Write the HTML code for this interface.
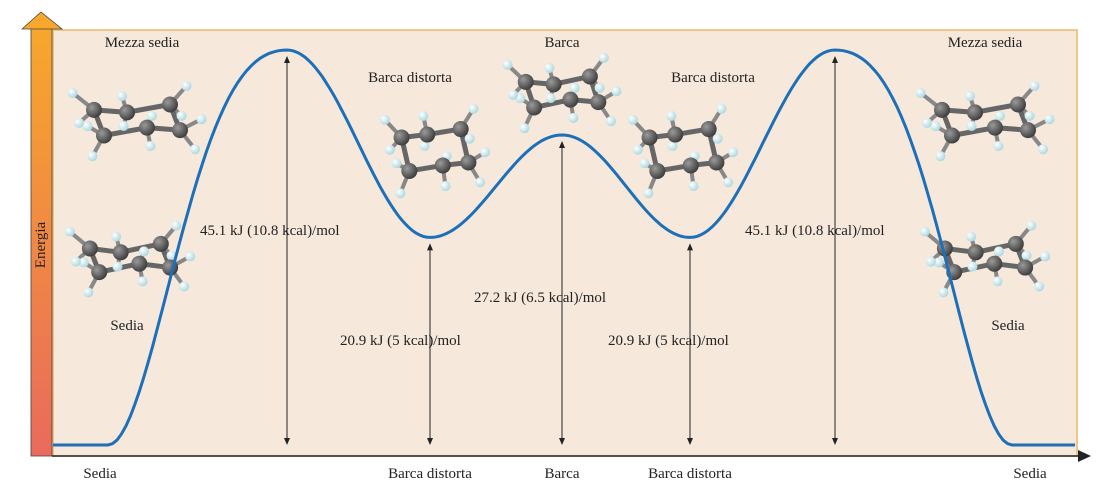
<!DOCTYPE html>
<html><head><meta charset="utf-8"><style>
body{margin:0;background:#fff;}
svg{display:block;font-family:"Liberation Serif",serif;}
</style></head><body>
<svg id="c" width="1117" height="494" viewBox="0 0 1117 494">
<defs>
<linearGradient id="eg" x1="0" y1="0" x2="0" y2="1"><stop offset="0" stop-color="#f7a72c"/><stop offset="1" stop-color="#e96a5c"/></linearGradient>
<radialGradient id="cg" cx="0.35" cy="0.35" r="0.7"><stop offset="0" stop-color="#9a9a9a"/><stop offset="1" stop-color="#3a3a3a"/></radialGradient>
<radialGradient id="hg" cx="0.35" cy="0.35" r="0.7"><stop offset="0" stop-color="#ffffff"/><stop offset="1" stop-color="#a9d6de"/></radialGradient>
</defs>
<rect x="53" y="30" width="1024" height="426" fill="#f6e9dc" stroke="#e8b86a" stroke-width="1.5"/>
<g>
<rect x="31" y="28" width="21" height="428" fill="url(#eg)" stroke="#444" stroke-width="0.8"/>
<polygon points="22,29 41,12 62,29" fill="#f7a72c" stroke="#444" stroke-width="0.8"/>
<text transform="translate(45,245) rotate(-90)" text-anchor="middle" font-size="15" fill="#222">Energia</text>
</g>
<g>
<line x1="52" y1="456" x2="1080" y2="456" stroke="#222" stroke-width="1.5"/>
<polygon points="1078,450 1091,456 1078,462" fill="#222"/>
</g>
<g id="mol"></g>
<g id="arrows"></g>
<path id="curve" fill="none" stroke="#1d6fb8" stroke-width="3"/>
<g id="labels"></g>
</svg>
<script>
const stateX = [108, 287, 430, 562, 690, 835, 1012];
const stateE = [0, 45.1, 23.7, 35.4, 23.7, 45.1, 0];
const arrowLabels = ["45.1 kJ (10.8 kcal)/mol","20.9 kJ (5 kcal)/mol","27.2 kJ (6.5 kcal)/mol","20.9 kJ (5 kcal)/mol","45.1 kJ (10.8 kcal)/mol"];
const xCategories = ["Sedia","Barca distorta","Barca","Barca distorta","Sedia"];
const NS="http://www.w3.org/2000/svg";
const y0=445, kpx=(445-50)/45.1;
function yS(e){return y0-e*kpx;}
function mk(t,a,p){const e=document.createElementNS(NS,t);for(const k in a)e.setAttribute(k,a[k]);(p||document.getElementById('c')).appendChild(e);return e;}
let d="M53,"+yS(0)+" L"+stateX[0]+","+yS(stateE[0]);
const last=stateX.length-2;
for(let i=0;i<stateX.length-1;i++){
  for(let s=1;s<=40;s++){const t=s/40;let g=t;
    if(i===0) g=t+0.45*t*(1-t);
    else if(i===last) g=t-0.45*t*(1-t);
    const f=(1-Math.cos(Math.PI*g))/2;
    d+=" L"+(stateX[i]+(stateX[i+1]-stateX[i])*t).toFixed(1)+","+yS(stateE[i]+(stateE[i+1]-stateE[i])*f).toFixed(1);}
}
d+=" L1075,"+yS(0);
document.getElementById('curve').setAttribute('d',d);
const ag=document.getElementById('arrows');
const lblPos=[[200,235],[340,345],[474,302],[608,345],[745,235]];
for(let i=1;i<=5;i++){
  const x=stateX[i],top=yS(stateE[i])+6,bot=yS(0);
  const g=mk('g',{},ag);
  
  
  mk('line',{x1:x,y1:top+5,x2:x,y2:bot-5,stroke:'#222','stroke-width':1},g);
  mk('polygon',{points:`${x-3},${top+7} ${x},${top} ${x+3},${top+7}`,fill:'#222'},g);
  mk('polygon',{points:`${x-3},${bot-7} ${x},${bot} ${x+3},${bot-7}`,fill:'#222'},g);
  const t=mk('text',{x:lblPos[i-1][0],y:lblPos[i-1][1],'font-size':15,fill:'#222'},document.getElementById('labels'));
  
  
  t.textContent=arrowLabels[i-1];
}
const xl=[100,430,562,690,1030];
xCategories.forEach((c,i)=>{const t=mk('text',{x:xl[i],y:478,'font-size':15,fill:'#222','text-anchor':'middle'},document.getElementById('labels'));
  
  
  t.textContent=c;});
const names=[["Mezza sedia",142,47],["Barca distorta",410,82],["Barca",562,47],["Barca distorta",713,82],["Mezza sedia",985,47],["Sedia",127,330],["Sedia",1008,330]];
names.forEach((n,i)=>{const t=mk('text',{x:n[1],y:n[2],'font-size':15,fill:'#222','text-anchor':'middle'},document.getElementById('labels'));
  
  
  t.textContent=n[0];});
const mg=document.getElementById('mol');
function mol(cx,cy,rx,ry,name){
  const g=mk('g',{},mg);
  
  
  const C=[];for(let k=0;k<6;k++){const a=k*Math.PI/3+0.3;C.push([cx+rx*Math.cos(a),cy+ry*Math.sin(a)+(k%2?-6:6)]);}
  const H=[];C.forEach(([x,y],k)=>{const dx=x-cx,dy=y-cy;H.push([x+dx*0.5,y+dy*0.3-14]);H.push([x+dx*0.35,y+dy*0.3+16]);});
  H.forEach((h,k)=>mk('line',{x1:C[k>>1][0],y1:C[k>>1][1],x2:h[0],y2:h[1],stroke:'#888','stroke-width':4},g));
  for(let k=0;k<6;k++){const a=C[k],b=C[(k+1)%6];mk('line',{x1:a[0],y1:a[1],x2:b[0],y2:b[1],stroke:'#666','stroke-width':5},g);}
  H.forEach(h=>mk('circle',{cx:h[0],cy:h[1],r:5,fill:'url(#hg)'},g));
  C.forEach(c=>mk('circle',{cx:c[0],cy:c[1],r:8,fill:'url(#cg)'},g));
}
mol(137,120,45,14,'half-chair-left');
mol(130,258,42,12,'chair-left');
mol(435,150,35,22,'twist-boat-left');
mol(562,92,38,14,'boat');
mol(683,150,35,22,'twist-boat-right');
mol(985,120,45,14,'half-chair-right');
mol(985,258,42,12,'chair-right');
</script>
</body></html>
